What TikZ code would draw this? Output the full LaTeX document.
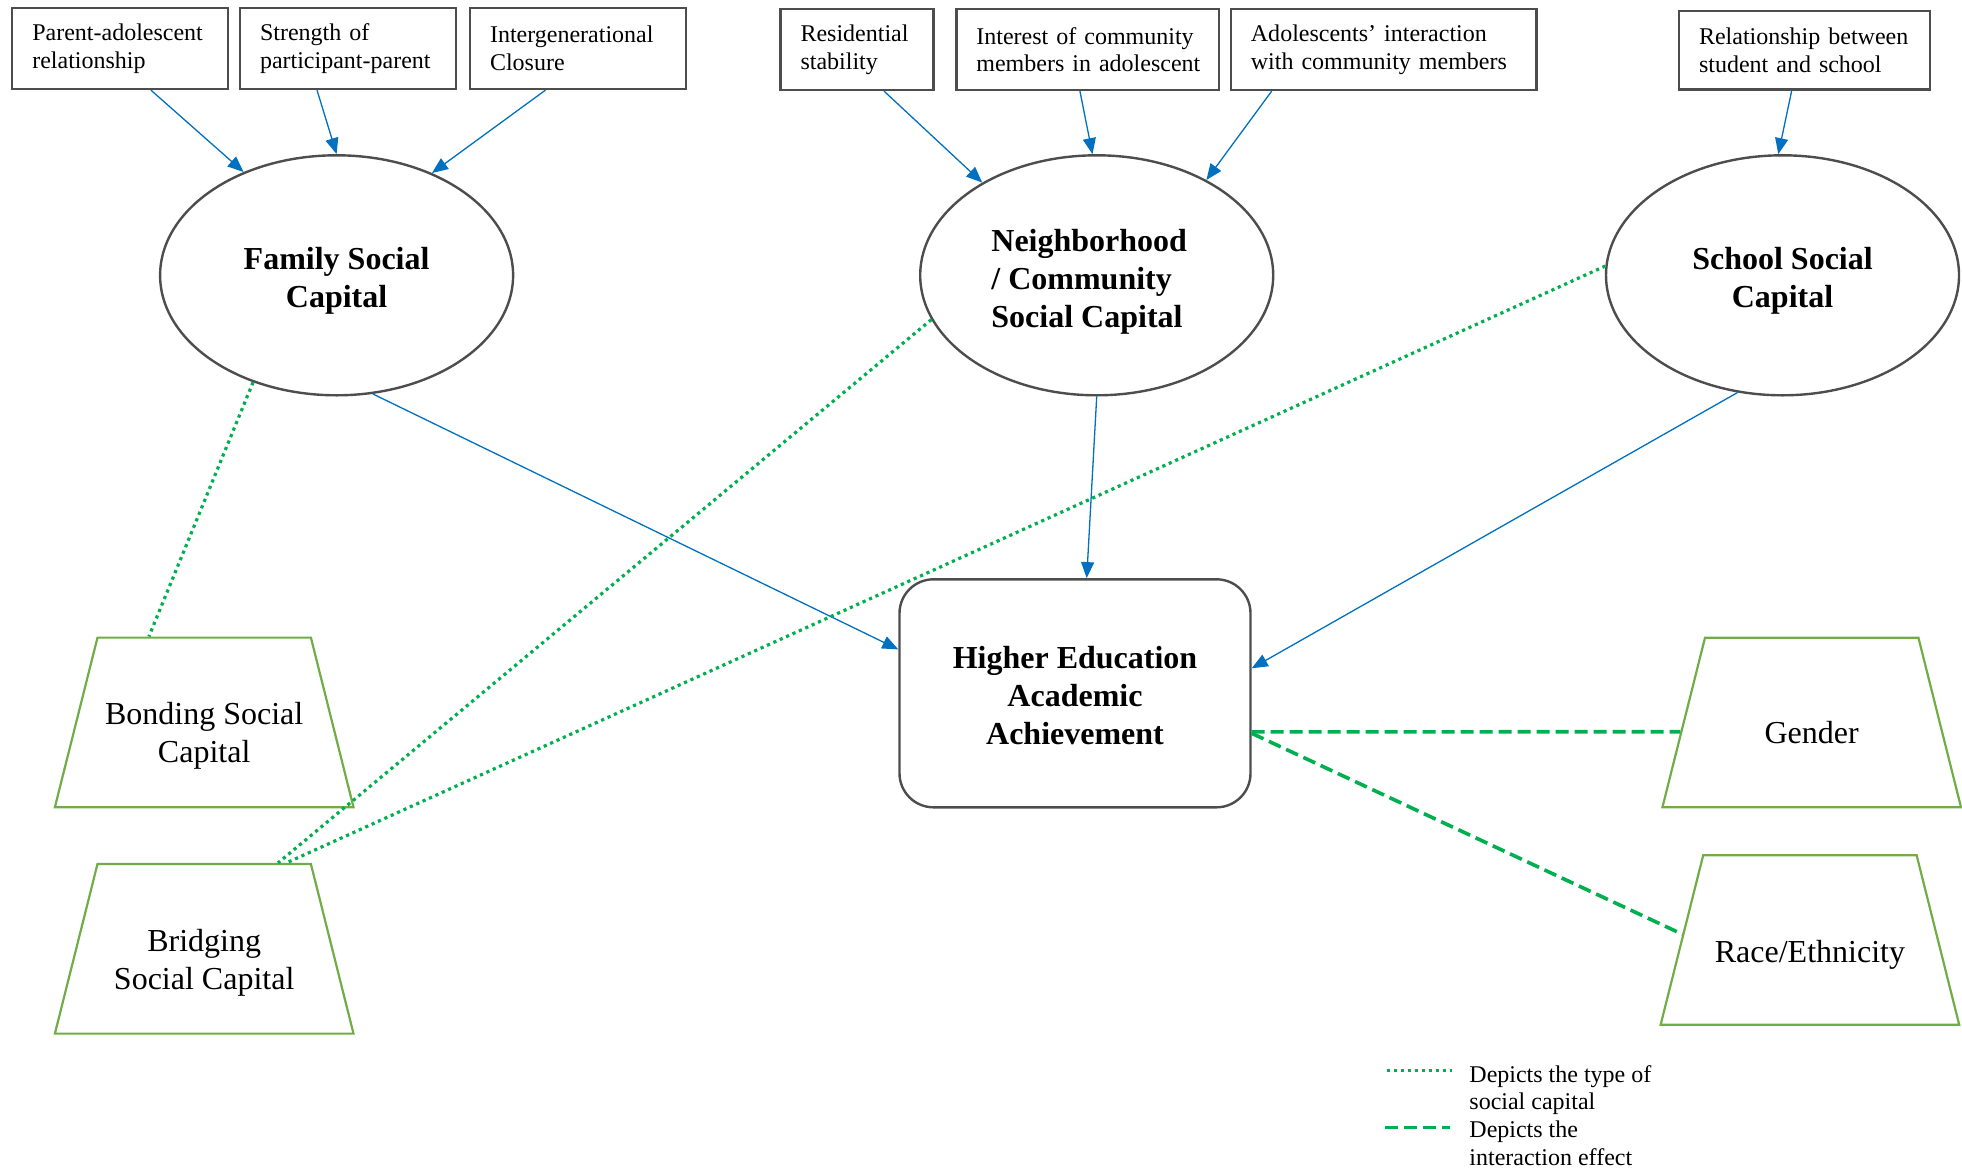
\documentclass[tikz,border=0pt]{standalone}
\usepackage{fontspec}
\setmainfont{Liberation Serif}
\usetikzlibrary{shapes.geometric,arrows.meta,calc}
\definecolor{boxgray}{HTML}{4D4D4D}
\definecolor{arrblue}{HTML}{0070C0}
\definecolor{dotgreen}{HTML}{00B050}
\definecolor{trapgreen}{HTML}{70AD47}
\begin{document}
\begin{tikzpicture}[x=0.5pt,y=-0.5pt,
  indbox/.style={draw=boxgray,line width=1.1pt,rectangle,inner xsep=10pt,inner ysep=0pt,align=left,
    font=\fontsize{12}{13.8}\selectfont,minimum height=40.5pt},
  capell/.style={draw=boxgray,line width=1.2pt,ellipse,minimum width=176.5pt,minimum height=120pt,
    inner sep=0pt,font=\fontsize{16}{19}\selectfont\bfseries},
  outbox/.style={draw=boxgray,line width=1.2pt,rectangle,rounded corners=17pt,minimum width=175.5pt,
    minimum height=114pt,align=center,font=\fontsize{16}{19}\selectfont\bfseries},
  trapbox/.style={draw=trapgreen,line width=1.1pt,trapezium,trapezium angle=75.9,trapezium stretches body,
    minimum width=149.3pt,inner xsep=0pt,inner ysep=42.4pt},
  traptext/.style={inner sep=0pt,align=center,font=\fontsize{16}{19}\selectfont},
  blarrow/.style={draw=arrblue,line width=0.65pt,-{Triangle[length=8pt,width=6.5pt]}},
  typeline/.style={draw=dotgreen,line width=1.6pt,dash pattern=on 1.6pt off 1.9pt},
  interline/.style={draw=dotgreen,line width=1.8pt,dash pattern=on 6.5pt off 3pt},
  legtext/.style={align=left,font=\fontsize{12}{13.8}\selectfont,inner sep=0pt,anchor=west}
]
\useasboundingbox (0,0) rectangle (1962,1167);

% indicator boxes
\node[indbox,text width=88pt] (pa) at (120.3,48.5) {\mbox{Parent-adolescent}\\\mbox{relationship}};
\node[indbox,text width=88pt] (sp) at (348,48.5) {\mbox{Strength of}\\\mbox{participant-parent}};
\node[indbox,text width=88pt] (ic) at (578,48.5) {\mbox{Intergenerational}\\\mbox{Closure}};
\node[indbox,text width=56.5pt] (rs) at (857,49.5) {\mbox{Residential}\\\mbox{stability}};
\node[indbox,text width=111.4pt] (icm) at (1087.8,49.5) {\mbox{Interest of community}\\\mbox{members in adolescent}};
\node[indbox,text width=132.8pt] (aic) at (1383.7,49.5) {\mbox{Adolescents’ interaction}\\\mbox{with community members}};
\node[indbox,text width=105.5pt,minimum height=39.2pt] (rss) at (1804.5,50.2) {\mbox{Relationship between}\\\mbox{student and school}};

% capital ellipses
\node[capell,align=center] (fam) at (336.6,275.3) {\rule{0pt}{17pt}Family Social\\Capital};
\node[capell,align=left] (nbh) at (1096.7,275.3) {\rule{0pt}{17.5pt}Neighborhood\rule{7.5pt}{0pt}\\/ Community\\Social Capital};
\node[capell,align=center] (sch) at (1782.5,275.3) {\rule{0pt}{17pt}School Social\\Capital};

% outcome
\node[outbox] (heaa) at (1075,693.3) {\rule{0pt}{13.4pt}Higher Education\\Academic\\Achievement};

% trapezia
\node[trapbox] (bond) at (204.2,722.4) {};
\node[traptext] (bondt) at (204.2,735.6) {Bonding Social\\Capital};
\node[trapbox] (brid) at (204.2,948.8) {};
\node[traptext] (bridt) at (204.2,963.2) {Bridging\\Social Capital};
\node[trapbox] (gend) at (1811.7,722.5) {};
\node[traptext] (gendt) at (1811.7,733) {Gender};
\node[trapbox] (race) at (1809.9,940) {};
\node[traptext] (racet) at (1809.9,954.7) {Race/Ethnicity};

% indicator arrows
\draw[blarrow] ($(pa.south)+(30.6,0)$) -- (fam.132.7);
\draw[blarrow] ($(sp.south)+(-31,0)$) -- (fam.north);
\draw[blarrow] ($(ic.south)+(-32.5,0)$) -- (fam.47.7);
\draw[blarrow] ($(rs.south)+(27,0)$) -- (nbh.141.5);
\draw[blarrow] ($(icm.south)+(-7.9,0)$) -- (nbh.92.2);
\draw[blarrow] ($(aic.south)+(-112,0)$) -- (nbh.41.7);
\draw[blarrow] ($(rss.south)+(-12.8,0)$) -- (sch.92.3);

% capital to outcome
\draw[blarrow] (fam.287.7) -- ($(heaa.west)+(0,-43.9)$);
\draw[blarrow] (nbh.south) -- ($(heaa.north)+(11.7,0)$);
\draw[blarrow] (sch.249.4) -- ($(heaa.east)+(0,-25)$);

% type of social capital
\draw[typeline] (fam.232.5) -- ($(bond.top left corner)!0.243!(bond.top right corner)$);
\draw[typeline] (nbh.195.7) -- ($(brid.top left corner)!0.843!(brid.top right corner)$);
\draw[typeline] (sch.177.2) -- ($(brid.top left corner)!0.882!(brid.top right corner)$);

% interaction effects
\draw[interline] ($(heaa.east)+(0,38.5)$) -- ($(gend.top left corner)!0.554!(gend.bottom left corner)$);
\draw[interline] ($(heaa.east)+(0,40)$) -- ($(race.top left corner)!0.466!(race.bottom left corner)$);

% legend
\coordinate (l1a) at (1386.7,1070.7);
\coordinate (l1b) at (1451.7,1070.7);
\draw[typeline] (l1a) -- (l1b);
\coordinate (l2a) at (1385,1127.3);
\coordinate (l2b) at (1450,1127.3);
\draw[interline] (l2a) -- (l2b);
\node[legtext] (leg1) at (1469,1090) {Depicts the type of\\social capital};
\node[legtext] (leg2) at (1469,1143.5) {Depicts the\\interaction effect};
\end{tikzpicture}
\end{document}
